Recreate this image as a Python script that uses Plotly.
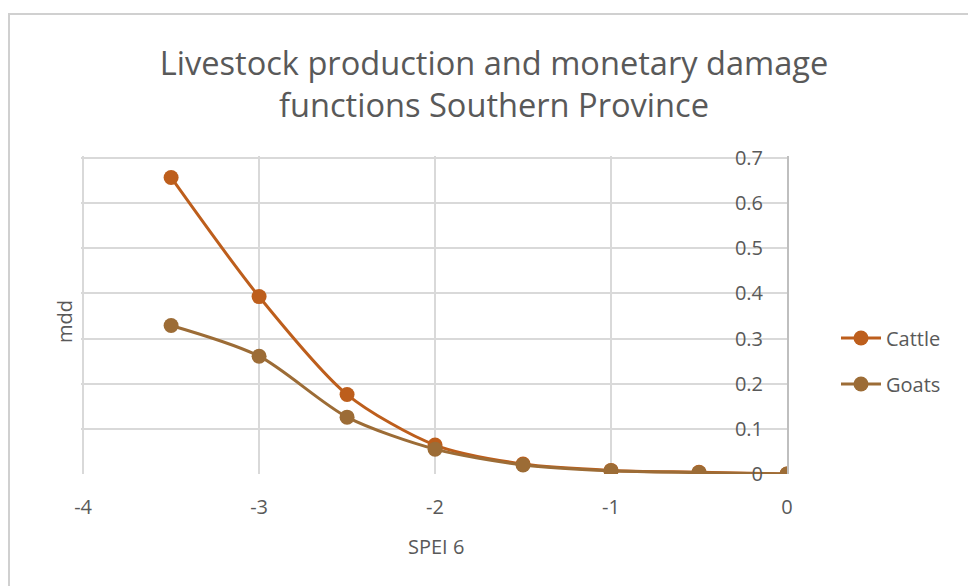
import plotly.graph_objects as go

# SPEI 6 drought index values (x) and mean damage degree (mdd) per livestock type
spei = [-3.5, -3.0, -2.5, -2.0, -1.5, -1.0, -0.5, 0.0]
cattle = [0.657, 0.393, 0.176, 0.064, 0.022, 0.008, 0.004, 0.0]
goats = [0.329, 0.261, 0.126, 0.055, 0.020, 0.007, 0.003, 0.0]

x_ticks = [-4, -3, -2, -1, 0]
x_tick_text = ["-4", "-3", "-2", "-1", "0"]
y_ticks = [0, 0.1, 0.2, 0.3, 0.4, 0.5, 0.6, 0.7]
y_tick_text = ["0", "0.1", "0.2", "0.3", "0.4", "0.5", "0.6", "0.7"]

CATTLE_COLOR = "#BD5E1C"
GOATS_COLOR = "#9C6C36"
TEXT_COLOR = "#595959"
GRID_COLOR = "#D9D9D9"
FONT = "Open Sans"

# ranges padded slightly so the -4 and 0.7 gridlines are still drawn
X_RANGE = [-4.012, 0]
Y_RANGE = [0, 0.7045]
L, R, T, B = 81, 181, 156, 112
PW, PH = 968 - L - R, 586 - T - B


def px_to_paper_x(px):
    return (px - L) / PW


def px_to_paper_y(py):
    return (586 - B - py) / PH


fig = go.Figure()
series = [("Cattle", cattle, CATTLE_COLOR, "y"), ("Goats", goats, GOATS_COLOR, "y2")]
for name, values, color, yaxis in series:
    fig.add_trace(go.Scatter(
        x=spei, y=values, name=name, mode="lines+markers",
        yaxis=yaxis, legendgroup=name,
        line=dict(color=color, width=3, shape="spline", smoothing=0.8),
        marker=dict(color=color, size=15),
    ))

fig.update_layout(
    width=968, height=586,
    margin=dict(l=L, r=R, t=T, b=B),
    paper_bgcolor="white", plot_bgcolor="white",
    font=dict(family=FONT, color=TEXT_COLOR, size=20),
    title=dict(
        text="Livestock production and monetary damage<br>functions Southern Province",
        x=494 / 968, xref="container", xanchor="center",
        y=1 - 75 / 586, yref="container", yanchor="middle",
        font=dict(family=FONT, size=32.6, color=TEXT_COLOR),
    ),
    showlegend=True,
    legend=dict(
        x=px_to_paper_x(836), xanchor="left",
        y=px_to_paper_y(361), yanchor="middle",
        font=dict(size=20, color=TEXT_COLOR),
        traceorder="grouped", tracegroupgap=17, itemwidth=40,
    ),
    xaxis=dict(
        range=X_RANGE, tickvals=x_ticks, ticktext=x_tick_text,
        showgrid=True, gridcolor=GRID_COLOR, gridwidth=1.5,
        zeroline=False, showline=False,
        ticks="", ticklabelstandoff=19,
        tickfont=dict(size=20, color=TEXT_COLOR),
    ),
    # value axis sits at x = 0 (right edge): grid and axis line
    yaxis=dict(
        range=Y_RANGE, tickvals=y_ticks,
        side="right", showticklabels=False,
        showgrid=True, gridcolor=GRID_COLOR, gridwidth=1.5,
        zeroline=False, showline=True, linecolor="#BFBFBF", linewidth=1.5,
        ticks="",
    ),
    # its labels, placed just left of the axis line
    yaxis2=dict(
        range=Y_RANGE, tickvals=y_ticks, ticktext=y_tick_text,
        overlaying="y", anchor="free", side="left",
        position=px_to_paper_x(765),
        showgrid=False, zeroline=False, showline=False, ticks="",
        ticklabelstandoff=2,
        tickfont=dict(size=20, color=TEXT_COLOR),
    ),
    annotations=[
        dict(text="mdd", x=px_to_paper_x(64), y=px_to_paper_y(322),
             xref="paper", yref="paper",
             xanchor="center", yanchor="middle", textangle=-90, showarrow=False,
             font=dict(size=20, color=TEXT_COLOR)),
        dict(text="SPEI 6", x=px_to_paper_x(436), y=px_to_paper_y(546),
             xref="paper", yref="paper",
             xanchor="center", yanchor="middle", showarrow=False,
             font=dict(size=20, color=TEXT_COLOR)),
    ],
    shapes=[
        # outer chart border (top and left edges visible)
        dict(type="line", xref="paper", yref="paper",
             x0=px_to_paper_x(8), x1=px_to_paper_x(990),
             y0=px_to_paper_y(14), y1=px_to_paper_y(14),
             line=dict(color="#D0D0D0", width=2)),
        dict(type="line", xref="paper", yref="paper",
             x0=px_to_paper_x(9), x1=px_to_paper_x(9),
             y0=px_to_paper_y(14), y1=px_to_paper_y(600),
             line=dict(color="#D0D0D0", width=2)),
    ],
)

fig.write_html("out.html")
